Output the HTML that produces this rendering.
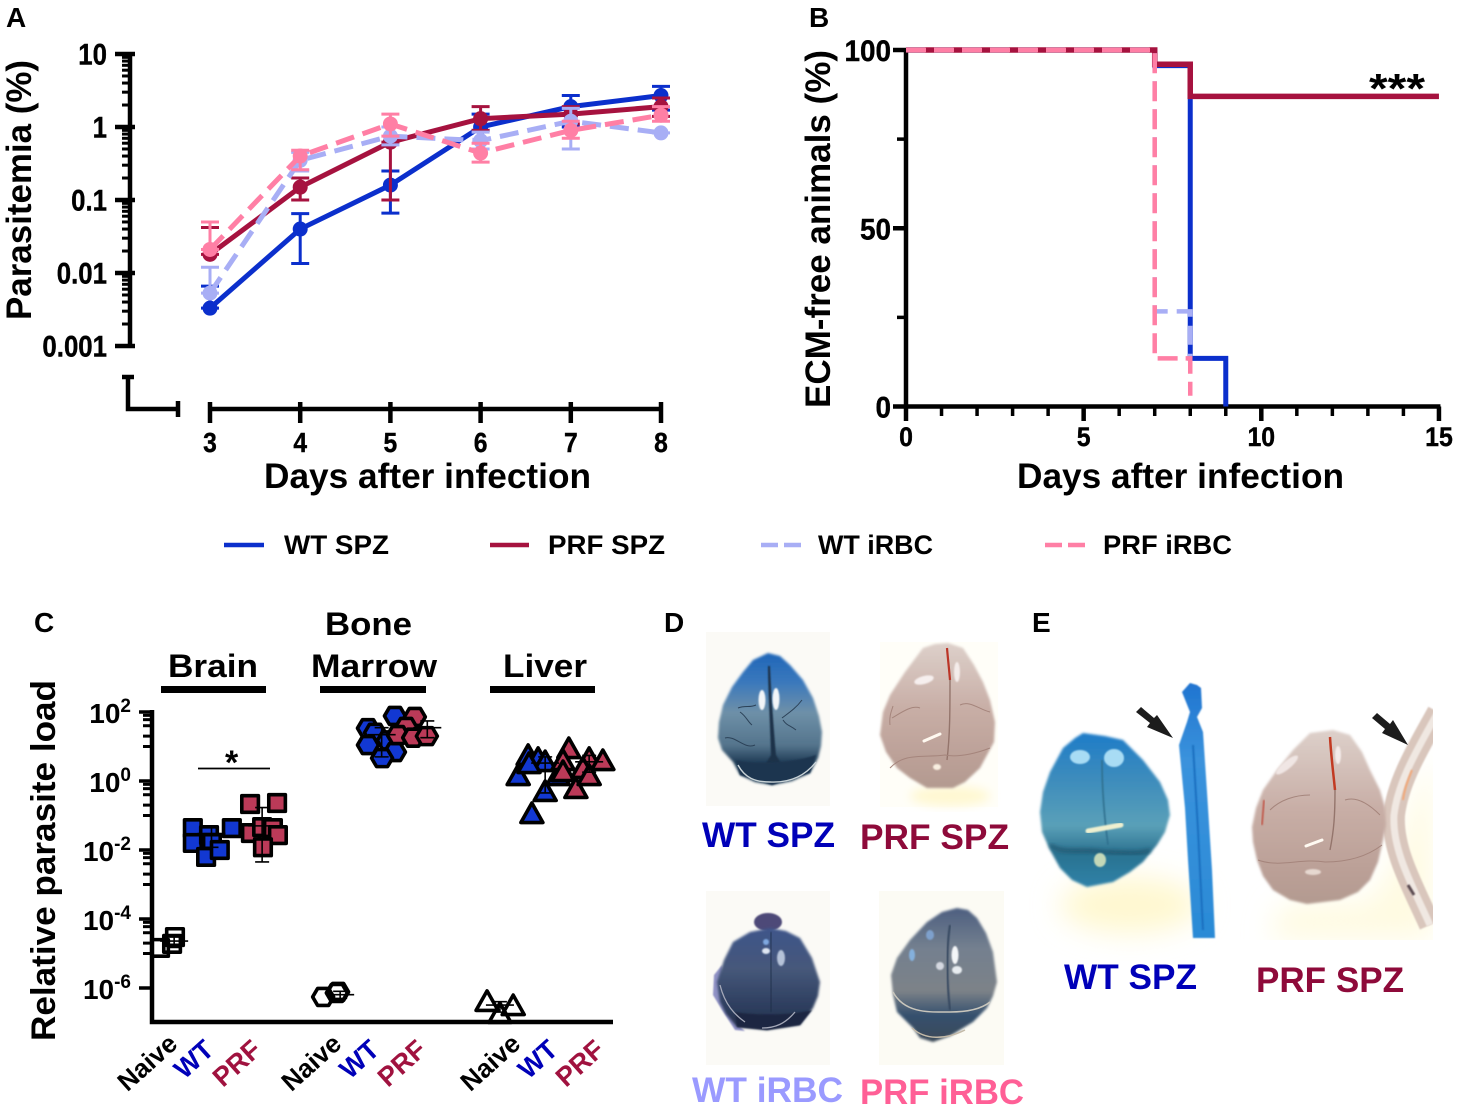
<!DOCTYPE html>
<html lang="en">
<head>
<meta charset="utf-8">
<title>Parasitemia, ECM and parasite load figure</title>
<style>
html,body{margin:0;padding:0;background:#fff;}
svg{display:block;}
text{font-family:"Liberation Sans",sans-serif;font-weight:bold;fill:#000;}
</style>
</head>
<body>
<svg id="fig" xmlns="http://www.w3.org/2000/svg" width="1458" height="1108" viewBox="0 0 1458 1108">
<defs>
<filter id="edge" x="-10%" y="-10%" width="120%" height="120%"><feGaussianBlur stdDeviation="1.2"/></filter>
<filter id="soft" x="-30%" y="-30%" width="160%" height="160%"><feGaussianBlur stdDeviation="0.8"/></filter>
<filter id="softer" x="-30%" y="-30%" width="160%" height="160%"><feGaussianBlur stdDeviation="2"/></filter>
<filter id="shade" x="-30%" y="-30%" width="160%" height="160%"><feGaussianBlur stdDeviation="5"/></filter>
<filter id="glow" x="-50%" y="-50%" width="200%" height="200%"><feGaussianBlur stdDeviation="14"/></filter>
<linearGradient id="g-wtspz" x1="0" y1="0" x2="0" y2="1"><stop offset="0" stop-color="#1f66b8"/><stop offset=".22" stop-color="#3a78bc"/><stop offset=".45" stop-color="#6e90a8"/><stop offset=".7" stop-color="#54748c"/><stop offset=".82" stop-color="#24405a"/><stop offset="1" stop-color="#1e3a54"/></linearGradient>
<linearGradient id="g-prf" x1="0" y1="0" x2="0" y2="1"><stop offset="0" stop-color="#ddd0ca"/><stop offset=".45" stop-color="#c8aea6"/><stop offset=".8" stop-color="#bba097"/><stop offset="1" stop-color="#b39a90"/></linearGradient>
<linearGradient id="g-wtirbc" x1="0" y1="0" x2="0" y2="1"><stop offset="0" stop-color="#3e558a"/><stop offset=".4" stop-color="#46587a"/><stop offset=".75" stop-color="#2e3f60"/><stop offset="1" stop-color="#26304a"/></linearGradient>
<linearGradient id="g-prfirbc" x1="0" y1="0" x2="0" y2="1"><stop offset="0" stop-color="#4d5f80"/><stop offset=".3" stop-color="#74808f"/><stop offset=".62" stop-color="#7c8288"/><stop offset=".8" stop-color="#35506e"/><stop offset="1" stop-color="#3c4a58"/></linearGradient>
<linearGradient id="g-ewt" x1="0" y1="0" x2="0" y2="1"><stop offset="0" stop-color="#1e7cc8"/><stop offset=".3" stop-color="#3d8cbc"/><stop offset=".6" stop-color="#5aa0b8"/><stop offset=".78" stop-color="#2c7290"/><stop offset="1" stop-color="#2d82a8"/></linearGradient>
<linearGradient id="g-tube" x1="0" y1="0" x2="0" y2="1"><stop offset="0" stop-color="#1f74d0"/><stop offset=".3" stop-color="#3a92dc"/><stop offset="1" stop-color="#2a8ad6"/></linearGradient>
<clipPath id="tube-clip"><rect x="1240" y="700" width="193" height="240"/></clipPath>
</defs>

<!-- panel letters -->
<text x="6" y="27" font-size="28">A</text>
<text x="809" y="27" font-size="28">B</text>
<text x="34" y="632" font-size="28">C</text>
<text x="664" y="632" font-size="28">D</text>
<text x="1032" y="632" font-size="28">E</text>

<!-- panel A -->
<g id="panel-a">
<text transform="translate(31,320) rotate(-90)" font-size="35" textLength="260" lengthAdjust="spacingAndGlyphs">Parasitemia (%)</text>
<text x="264" y="488" font-size="35" textLength="327" lengthAdjust="spacingAndGlyphs">Days after infection</text>
</g>

<!-- panel B -->
<g id="panel-b">
<text transform="translate(830,408) rotate(-90)" font-size="35" textLength="358" lengthAdjust="spacingAndGlyphs">ECM-free animals (%)</text>
<text x="1017" y="488" font-size="35" textLength="327" lengthAdjust="spacingAndGlyphs">Days after infection</text>
<text x="1369" y="103" font-size="42" textLength="56" lengthAdjust="spacingAndGlyphs">***</text>
</g>

<!-- legend -->
<g id="legend">
<g>
<line x1="224" y1="545" x2="264" y2="545" stroke="#0b2fcc" stroke-width="4.5"/>
<text x="284" y="554" font-size="27" textLength="105" lengthAdjust="spacingAndGlyphs">WT SPZ</text>
</g>
<g>
<line x1="490" y1="545" x2="529" y2="545" stroke="#a6123f" stroke-width="4.5"/>
<text x="548" y="554" font-size="27" textLength="117" lengthAdjust="spacingAndGlyphs">PRF SPZ</text>
</g>
<g>
<line x1="761" y1="545" x2="801" y2="545" stroke="#a8aef5" stroke-width="4.5" stroke-dasharray="17 6"/>
<text x="818" y="554" font-size="27" textLength="115" lengthAdjust="spacingAndGlyphs">WT iRBC</text>
</g>
<g>
<line x1="1045" y1="545" x2="1086" y2="545" stroke="#ff7fa5" stroke-width="4.5" stroke-dasharray="17 6"/>
<text x="1103" y="554" font-size="27" textLength="129" lengthAdjust="spacingAndGlyphs">PRF iRBC</text>
</g>
</g>

<!-- panel C -->
<g id="panel-c">
<text transform="translate(55,1041) rotate(-90)" font-size="34" textLength="361" lengthAdjust="spacingAndGlyphs">Relative parasite load</text>
<text x="168" y="677" font-size="32" textLength="90" lengthAdjust="spacingAndGlyphs">Brain</text>
<text x="325" y="635" font-size="32" textLength="87" lengthAdjust="spacingAndGlyphs">Bone</text>
<text x="311" y="677" font-size="32" textLength="126" lengthAdjust="spacingAndGlyphs">Marrow</text>
<text x="503" y="677" font-size="32" textLength="84" lengthAdjust="spacingAndGlyphs">Liver</text>
<rect x="161" y="686" width="105" height="7" fill="#000"/>
<rect x="320" y="686" width="106" height="7" fill="#000"/>
<rect x="490" y="686" width="105" height="7" fill="#000"/>
<line x1="198" y1="768.5" x2="270" y2="768.5" stroke="#000" stroke-width="1.8"/>
<text x="225" y="774" font-size="34">*</text>
</g>

<!-- panel D photographs -->
<g id="panel-d">
<g>
<rect x="706" y="632" width="124" height="174" fill="#fbfaf6"/>
<polygon points="768,653 780,656 790,665 803,680 813,698 819,716 822,732 821,746 818,758 810,773 792,781 772,785 755,782 740,775 733,762 722,750 718,738 719,722 723,705 732,687 743,672 753,660" fill="url(#g-wtspz)" filter="url(#edge)"/>
<path d="M768,666 C768,690 770,720 771,755 L762,770 L772,783 L785,770 L776,755 C773,720 771,690 770,666Z" fill="#1c3048" filter="url(#soft)"/>
<path d="M736,760 C750,764 790,764 816,755 L810,773 L772,785 L740,775Z" fill="#1d3650" filter="url(#soft)"/>
<path d="M738,765 C745,778 755,782 770,782 C790,783 805,776 816,762" stroke="#c8d2d6" stroke-width="1.4" fill="none"/>
<path d="M738,708 C745,705 750,708 756,705 M752,725 C748,722 746,716 740,712 M782,718 C790,712 796,708 802,700 M783,720 C787,726 790,725 796,730 M725,738 C735,735 745,750 755,745" stroke="#2c4258" stroke-width="1" fill="none"/>
<ellipse cx="762" cy="700" rx="3.5" ry="10" fill="#f2f5f8" filter="url(#soft)"/>
<ellipse cx="776" cy="699" rx="3.5" ry="11" fill="#f2f5f8" filter="url(#soft)"/>
</g>
<g>
<rect x="880" y="642" width="118" height="165" fill="#fffef8"/>
<ellipse cx="950" cy="796" rx="40" ry="10" fill="#fff8d2" filter="url(#shade)"/>
<polygon points="948,643 963,648 974,665 983,682 990,700 995,722 994,742 980,768 965,782 953,788 927,788 910,778 897,768 886,752 880,735 883,712 890,695 905,672 923,648 935,644" fill="url(#g-prf)" filter="url(#edge)"/>
<path d="M947,648 C948,660 949,668 950,680" stroke="#bb3426" stroke-width="2.2" fill="none"/>
<path d="M950,680 C950,710 950,735 947,760" stroke="#94756c" stroke-width="1.4" fill="none"/>
<path d="M890,768 C905,752 925,758 945,755 C960,758 980,752 990,748 M892,718 C902,712 912,705 920,708 M960,705 C970,700 980,710 990,712 M890,725 C889,715 892,710 893,706" stroke="#a5857c" stroke-width="1" fill="none"/>
<path d="M924,741 L940,734" stroke="#fff9f0" stroke-width="3" stroke-linecap="round"/>
<ellipse cx="937" cy="767" rx="4" ry="3" fill="#f8eee0" filter="url(#soft)"/>
<ellipse cx="924" cy="680" rx="10" ry="4" fill="#f6efee" transform="rotate(-15 924 680)" filter="url(#soft)"/>
<ellipse cx="957" cy="672" rx="3" ry="10" fill="#f4ecea" filter="url(#soft)"/>
</g>
<g>
<rect x="706" y="891" width="124" height="174" fill="#fbfaf6"/>
<polygon points="714,975 722,965 725,1000 738,1025 745,1031 735,1030 722,1010 713,995" fill="#8f91c4" filter="url(#soft)"/>
<ellipse cx="768" cy="922" rx="14" ry="9" fill="#4e4a78" filter="url(#soft)"/>
<polygon points="770,928 786,931 800,938 812,958 820,982 818,996 813,1008 800,1025 767,1030 737,1027 726,1014 720,1002 717,982 724,960 733,942 750,932" fill="url(#g-wtirbc)" filter="url(#edge)"/>
<path d="M771,932 C770,960 772,990 771,1012" stroke="#1e2a44" stroke-width="2" fill="none" filter="url(#soft)"/>
<path d="M735,1012 C750,1015 790,1016 812,1010 L800,1025 L767,1030 L737,1027Z" fill="#1d2842" filter="url(#soft)"/>
<path d="M720,985 C725,1005 735,1015 745,1022 M795,1012 C785,1024 775,1028 762,1028" stroke="#a4a8b8" stroke-width="1.3" fill="none"/>
<ellipse cx="766" cy="951" rx="4" ry="3" fill="#dfe6f2" filter="url(#soft)"/>
<ellipse cx="781" cy="958" rx="4" ry="8" fill="#b5c2d8" filter="url(#soft)"/>
<ellipse cx="766" cy="942" rx="3" ry="3" fill="#7fa8e0" filter="url(#soft)"/>
</g>
<g>
<rect x="879" y="891" width="125" height="174" fill="#fcfbf4"/>
<polygon points="957,908 968,910 977,918 986,933 993,952 997,982 993,996 987,1008 973,1022 950,1036 933,1042 920,1038 913,1028 897,1012 893,995 891,975 897,958 910,940 927,922 942,912" fill="url(#g-prfirbc)" filter="url(#edge)"/>
<path d="M950,925 C946,950 947,985 950,1010" stroke="#36465e" stroke-width="2" fill="none" filter="url(#soft)"/>
<path d="M893,992 C905,1014 930,1012 950,1012 C965,1012 980,1010 990,1002" stroke="#c9c6bc" stroke-width="1.5" fill="none"/>
<path d="M912,1028 C925,1040 945,1040 965,1030" stroke="#c4baa8" stroke-width="1.5" fill="none"/>
<ellipse cx="955" cy="955" rx="3.5" ry="9" fill="#f4f6f8" filter="url(#soft)"/>
<ellipse cx="957" cy="970" rx="5" ry="4" fill="#e8ecf0" filter="url(#soft)"/>
<ellipse cx="940" cy="966" rx="4" ry="4" fill="#d4d8e0" filter="url(#soft)"/>
<ellipse cx="912" cy="955" rx="3" ry="6" fill="#84b0dc" filter="url(#soft)"/>
<ellipse cx="930" cy="935" rx="4" ry="5" fill="#7ea0cc" filter="url(#soft)"/>
</g>
<text x="702" y="847" font-size="35" style="fill:#0000b8" textLength="133" lengthAdjust="spacingAndGlyphs">WT SPZ</text>
<text x="860" y="849" font-size="35" style="fill:#8e0a3a" textLength="149" lengthAdjust="spacingAndGlyphs">PRF SPZ</text>
<text x="692" y="1102" font-size="35" style="fill:#9a9aff" textLength="151" lengthAdjust="spacingAndGlyphs">WT iRBC</text>
<text x="860" y="1104" font-size="35" style="fill:#ff5f96" textLength="164" lengthAdjust="spacingAndGlyphs">PRF iRBC</text>
</g>

<!-- panel E photographs -->
<g id="panel-e">
<g clip-path="url(#tube-clip)">
<polygon points="1420,780 1433,760 1433,940 1270,940 1280,905 1370,900 1395,860" fill="#fffbe2" filter="url(#glow)"/>
<path d="M1438,712 C1420,745 1398,780 1394,815 C1392,850 1412,885 1430,925" stroke="#d9c6bc" stroke-width="22" fill="none" filter="url(#soft)"/>
<path d="M1438,712 C1420,745 1398,780 1394,815 C1392,850 1412,885 1430,925" stroke="#f0e8e2" stroke-width="7" fill="none" filter="url(#soft)"/>
<path d="M1412,770 C1406,785 1404,792 1403,800" stroke="#f2a878" stroke-width="2" fill="none" filter="url(#soft)"/>
<path d="M1408,885 L1414,895" stroke="#5a4a50" stroke-width="3" filter="url(#soft)"/>
</g>
<polygon points="1333,730 1350,735 1362,752 1370,770 1380,790 1385,807 1386,825 1383,840 1378,862 1370,880 1358,892 1340,900 1307,904 1290,900 1273,890 1263,876 1257,860 1253,842 1252,827 1256,808 1263,790 1277,770 1293,750 1310,733" fill="url(#g-prf)" filter="url(#edge)"/>
<path d="M1330,737 C1331,755 1333,770 1335,790" stroke="#c23a22" stroke-width="2.5" fill="none"/>
<path d="M1335,790 C1335,815 1334,830 1330,850" stroke="#94756c" stroke-width="1.4" fill="none"/>
<path d="M1258,860 C1280,868 1300,858 1325,862 C1345,862 1365,858 1382,845 M1270,810 C1280,800 1295,795 1310,795 M1345,800 C1360,795 1375,810 1380,815" stroke="#a5857c" stroke-width="1" fill="none"/>
<path d="M1306,846 L1322,840" stroke="#fffaf2" stroke-width="3" stroke-linecap="round"/>
<ellipse cx="1287" cy="765" rx="14" ry="4" fill="#f0e6e4" transform="rotate(-40 1287 765)" filter="url(#soft)"/>
<ellipse cx="1338" cy="755" rx="3" ry="9" fill="#f4ecea" filter="url(#soft)"/>
<ellipse cx="1313" cy="872" rx="8" ry="3" fill="#e6d8d0" filter="url(#soft)"/>
<path d="M1264,800 L1262,825" stroke="#c04a3a" stroke-width="1.5" filter="url(#soft)"/>

<ellipse cx="1130" cy="905" rx="70" ry="28" fill="#fff8d0" filter="url(#glow)"/>
<polygon points="1083,733 1105,736 1123,740 1143,760 1160,782 1168,800 1170,815 1165,832 1157,845 1143,862 1130,872 1113,882 1087,887 1072,880 1060,868 1050,850 1042,832 1040,812 1043,792 1050,772 1063,748 1075,738" fill="url(#g-ewt)" filter="url(#edge)"/>
<path d="M1102,760 C1102,790 1104,815 1108,845" stroke="#2f6f8e" stroke-width="1.6" fill="none" filter="url(#soft)"/>
<path d="M1050,845 C1062,855 1085,848 1102,852 C1120,852 1140,855 1150,850" stroke="#1f4f68" stroke-width="3" fill="none" filter="url(#softer)"/>
<ellipse cx="1080" cy="757" rx="10" ry="7" fill="#a8dcf4" filter="url(#soft)"/>
<ellipse cx="1114" cy="758" rx="10" ry="9" fill="#a8dcf4" filter="url(#soft)"/>
<path d="M1088,831 L1121,825" stroke="#eef0d0" stroke-width="5" stroke-linecap="round" filter="url(#soft)"/>
<ellipse cx="1100" cy="860" rx="6" ry="7" fill="#c4d8b8" filter="url(#soft)"/>
<polygon points="1190,683 1197,685 1201,688 1202,708 1197,717 1203,732 1207,792 1212,870 1215,938 1193,938 1188,860 1185,808 1179,745 1187,722 1190,712 1182,692" fill="url(#g-tube)" filter="url(#soft)"/>
<path d="M1193,745 L1198,830 L1203,930" stroke="#1a70c0" stroke-width="2" fill="none" filter="url(#soft)"/>
<polygon points="1136,712 1141,707 1154,718 1157,715 1173,738 1147,727 1150,723" fill="#1c1c1c"/>
<polygon points="1372,718 1377,713 1390,724 1393,720 1408,745 1382,733 1385,729" fill="#1c1c1c"/>
<text x="1064" y="989" font-size="35" style="fill:#0000b8" textLength="133" lengthAdjust="spacingAndGlyphs">WT SPZ</text>
<text x="1256" y="992" font-size="35" style="fill:#8e0a3a" textLength="148" lengthAdjust="spacingAndGlyphs">PRF SPZ</text>
</g>
</svg>

<script>
/* ---------- Panel A data ---------- */
const parasitemiaDays = [3, 4, 5, 6, 7, 8];
const wtSpzParasitemia = [0.0033, 0.04, 0.16, 1.0, 1.9, 2.7];
const prfSpzParasitemia = [0.018, 0.15, 0.62, 1.3, 1.5, 1.9];
const wtIrbcParasitemia = [0.0053, 0.35, 0.75, 0.65, 1.2, 0.83];
const prfIrbcParasitemia = [0.021, 0.4, 1.1, 0.44, 0.9, 1.45];
const wtSpzHigh = [0.0066, 0.065, 0.25, 1.5, 2.7, 3.6];
const wtSpzLow = [0.0033, 0.0135, 0.066, 0.9, 1.0, 1.7];
const prfSpzHigh = [0.042, 0.2, 0.62, 1.9, 1.9, 2.5];
const prfSpzLow = [0.018, 0.1, 0.1, 0.9, 1.1, 1.4];
const wtIrbcHigh = [0.012, 0.45, 1.0, 0.85, 1.8, 0.83];
const wtIrbcLow = [0.0053, 0.25, 0.57, 0.5, 0.5, 0.83];
const prfIrbcHigh = [0.05, 0.48, 1.5, 0.6, 1.2, 1.9];
const prfIrbcLow = [0.021, 0.26, 0.75, 0.33, 0.7, 1.2];
const parasitemiaTicks = [10, 1, 0.1, 0.01, 0.001];
const parasitemiaTickLabels = ['10', '1', '0.1', '0.01', '0.001'];

/* ---------- Panel B data ---------- */
const survivalTickLabelsY = [0, 50, 100];
const survivalMinorY = [25, 75];
const survivalTickLabelsX = [0, 5, 10, 15];
const survivalDaysMax = 15;
const wtSpzDays = [0, 7, 7, 8, 8, 9, 9];
const wtSpzSurvival = [100, 100, 95.6, 95.6, 13.5, 13.5, 0];
const prfSpzDays = [0, 7, 7, 8, 8, 15];
const prfSpzSurvival = [100, 100, 96, 96, 87, 87];
const wtIrbcDays = [0, 7, 7, 8, 8];
const wtIrbcSurvival = [100, 100, 26.7, 26.7, 13.5];
const prfIrbcDays = [0, 7, 7, 8, 8];
const prfIrbcSurvival = [100, 100, 13.5, 13.5, 3];

/* ---------- Panel C data ---------- */
const loadCategories = ['Naive', 'WT', 'PRF', 'Naive', 'WT', 'PRF', 'Naive', 'WT', 'PRF'];
const loadColumns = [0, 1, 2, 4, 5, 6, 8, 9, 10];
const loadMarkers = ['square', 'square', 'square', 'hexagon', 'hexagon', 'hexagon', 'triangle', 'triangle', 'triangle'];
const loadBrainNaive = [1.45e-5, 1.9e-5, 3e-5];
const jitterBrainNaive = [-0.24, 0.05, 0.12];
const loadBrainWt = [0.043, 0.016, 0.027, 0.016, 0.0063, 0.01, 0.043];
const jitterBrainWt = [-0.45, -0.45, -0.06, 0.01, -0.13, 0.2, 0.49];
const loadBrainPrf = [0.215, 0.23, 0.031, 0.046, 0.043, 0.027, 0.012];
const jitterBrainPrf = [-0.07, 0.58, -0.05, 0.22, 0.48, 0.6, 0.24];
const loadMarrowNaive = [5.5e-7, 7.7e-7, 7.2e-7];
const jitterMarrowNaive = [-0.31, 0.05, 0.02];
const loadMarrowWt = [34, 77, 25, 11, 15, 6.9, 4.6];
const jitterMarrowWt = [-0.23, 0.42, -0.06, -0.23, 0.25, 0.42, 0.11];
const loadMarrowPrf = [72, 37, 21.5, 18, 20];
const jitterMarrowPrf = [-0.1, -0.31, -0.51, -0.14, 0.19];
const loadLiverNaive = [3.7e-7, 2.8e-7, 1.65e-7];
const jitterLiverNaive = [-0.36, 0.27, -0.05];
const loadLiverWt = [5, 1.3, 4.1, 3.3, 2.9, 0.45, 0.103, 1.3];
const jitterLiverWt = [-0.37, -0.61, -0.13, 0.04, -0.35, 0.04, -0.28, 0.35];
const loadLiverPrf = [7.9, 3.55, 1.7, 0.55, 4.1, 3.55, 2.1, 1.3];
const jitterLiverPrf = [-0.39, -0.53, -0.53, -0.22, 0.1, 0.43, -0.05, 0.1];
const loadMeans = [2.3e-5, 0.03, 0.05, 6.4e-7, 22, 35, 3.2e-7, 3.3, 3.6];
const loadHighs = [3e-5, 0.05, 0.17, 8e-7, 35, 55, 4e-7, 5, 5.5];
const loadLows = [1.5e-5, 0.012, 0.0045, 5e-7, 5, 18, 2e-7, 0.45, 1.8];
const loadStatOffsets = [0.1, 0, 0.22, 0.1, 0.1, 0.2, -0.05, 0.04, 0.1];
const loadTickExponents = [2, 0, -2, -4, -6];

/* ---------- Helpers ---------- */
const SVGNS = 'http://www.w3.org/2000/svg';
function add(parent, tag, attrs, text) {
  const node = document.createElementNS(SVGNS, tag);
  for (const k in attrs) node.setAttribute(k, attrs[k]);
  if (text !== undefined) node.textContent = text;
  parent.appendChild(node);
  return node;
}
function narrow(label, factor) {
  label.setAttribute('textLength', label.getComputedTextLength() * factor);
  label.setAttribute('lengthAdjust', 'spacingAndGlyphs');
}
const panelA = document.getElementById('panel-a');
const panelB = document.getElementById('panel-b');
const panelC = document.getElementById('panel-c');

/* ---------- Panel A ---------- */
const xA = d => 210 + (d - 3) * 90.2;
const yA = v => 346 - (Math.log10(v) + 3) * 73;

const axisAY = add(panelA, 'path', {d: `M130,${yA(10)} V${yA(0.001)}`, stroke: '#000', 'stroke-width': 4.5, fill: 'none'});


for (let e = -3; e < 1; e++) {
  for (let m = 2; m < 10; m++) {
    const minor = add(panelA, 'line', {x1: 122, x2: 130, y1: yA(m * Math.pow(10, e)), y2: yA(m * Math.pow(10, e)), stroke: '#000', 'stroke-width': 3});
    
    
  }
}
parasitemiaTicks.forEach((v, i) => {
  const tick = add(panelA, 'line', {x1: 115, x2: 135, y1: yA(v), y2: yA(v), stroke: '#000', 'stroke-width': 4.5});
  
  
  const label = add(panelA, 'text', {x: 107, y: yA(v) + 10.5, 'text-anchor': 'end', 'font-size': 30, stroke: '#000', 'stroke-width': 0.4}, parasitemiaTickLabels[i]);
  
  
  narrow(label, 0.86);
});
const brokenY = add(panelA, 'path', {d: 'M122,377 H134 M128,377 V409 H178 M178,401 V417', stroke: '#000', 'stroke-width': 4.5, fill: 'none'});


const axisAX = add(panelA, 'line', {x1: xA(3), x2: xA(8), y1: 409, y2: 409, stroke: '#000', 'stroke-width': 4.5});


parasitemiaDays.forEach(d => {
  const tick = add(panelA, 'line', {x1: xA(d), x2: xA(d), y1: 402, y2: 423, stroke: '#000', 'stroke-width': 4.5});
  
  
  const label = add(panelA, 'text', {x: xA(d), y: 452, 'text-anchor': 'middle', 'font-size': 28, stroke: '#000', 'stroke-width': 0.4}, String(d));
  
  
  narrow(label, 0.88);
});

const parasitemiaSeries = [
  ['wt-spz', '#0b2fcc', null, wtSpzParasitemia, wtSpzHigh, wtSpzLow],
  ['prf-spz', '#a6123f', null, prfSpzParasitemia, prfSpzHigh, prfSpzLow],
  ['wt-irbc', '#a8aef5', '19 9', wtIrbcParasitemia, wtIrbcHigh, wtIrbcLow],
  ['prf-irbc', '#ff7fa5', '19 9', prfIrbcParasitemia, prfIrbcHigh, prfIrbcLow]
];
parasitemiaSeries.forEach(s => {
  const name = s[0], color = s[1], dash = s[2], vals = s[3], hi = s[4], lo = s[5];
  parasitemiaDays.forEach((d, i) => {
    const x = xA(d);
    const err = add(panelA, 'path', {d: `M${x - 9},${yA(hi[i])} H${x + 9} M${x},${yA(hi[i])} V${yA(lo[i])} M${x - 9},${yA(lo[i])} H${x + 9}`, stroke: color, 'stroke-width': 3, fill: 'none'});
    
    
  });
  const lineAttrs = {d: 'M' + parasitemiaDays.map((d, i) => xA(d) + ',' + yA(vals[i])).join(' L'), stroke: color, 'stroke-width': 5, fill: 'none'};
  if (dash) lineAttrs['stroke-dasharray'] = dash;
  const line = add(panelA, 'path', lineAttrs);
  
  
  parasitemiaDays.forEach((d, i) => {
    const pt = add(panelA, 'ellipse', {cx: xA(d), cy: yA(vals[i]), rx: 7.5, ry: 7.5, fill: color});
    
    
  });
});

/* ---------- Panel B ---------- */
const xB = d => 906 + d * 35.53;
const yB = v => 406.5 - v * 3.565;

const axisBY = add(panelB, 'line', {x1: xB(0), x2: xB(0), y1: yB(100) - 2, y2: yB(0) + 2, stroke: '#000', 'stroke-width': 4.5});


const axisBX = add(panelB, 'line', {x1: xB(0), x2: xB(survivalDaysMax) + 1.5, y1: yB(0), y2: yB(0), stroke: '#000', 'stroke-width': 4.5});


survivalTickLabelsY.forEach(v => {
  const tick = add(panelB, 'line', {x1: 893, x2: xB(0), y1: yB(v), y2: yB(v), stroke: '#000', 'stroke-width': 4.5});
  
  
  const label = add(panelB, 'text', {x: 891, y: yB(v) + 11, 'text-anchor': 'end', 'font-size': 30, stroke: '#000', 'stroke-width': 0.4}, String(v));
  
  
  narrow(label, 0.93);
});
survivalMinorY.forEach(v => {
  const tick = add(panelB, 'line', {x1: 897, x2: xB(0), y1: yB(v), y2: yB(v), stroke: '#000', 'stroke-width': 3.5});
  
  
});
for (let d = 0; d <= survivalDaysMax; d++) {
  const major = survivalTickLabelsX.indexOf(d) >= 0;
  const tick = add(panelB, 'line', {x1: xB(d), x2: xB(d), y1: yB(0), y2: major ? 421 : 416, stroke: '#000', 'stroke-width': major ? 4.5 : 3.5});
  
  
}
survivalTickLabelsX.forEach(d => {
  const label = add(panelB, 'text', {x: xB(d), y: 446, 'text-anchor': 'middle', 'font-size': 27, stroke: '#000', 'stroke-width': 0.4}, String(d));
  
  
  narrow(label, 0.92);
});
const survivalSeries = [
  ['wt-spz', '#0b2fcc', null, wtSpzDays, wtSpzSurvival, 5],
  ['prf-spz', '#a6123f', null, prfSpzDays, prfSpzSurvival, 5.5],
  ['wt-irbc', '#a8aef5', '19 9', wtIrbcDays, wtIrbcSurvival, 4.5],
  ['prf-irbc', '#ff7fa5', '20 8', prfIrbcDays, prfIrbcSurvival, 4.5]
];
survivalSeries.forEach(s => {
  const attrs = {d: 'M' + s[3].map((d, i) => xB(d) + ',' + yB(s[4][i])).join(' L'), stroke: s[1], 'stroke-width': s[5], fill: 'none'};
  if (s[2]) attrs['stroke-dasharray'] = s[2];
  const step = add(panelB, 'path', attrs);
  
  
});

/* ---------- Panel C ---------- */
const xC = (column, jitter) => 170 + (column + jitter) * 41.5;
const yC = v => 781 - Math.log10(v) * 34.5;

const axisC = add(panelC, 'path', {d: `M152,${yC(100) - 2} V1022 H613`, stroke: '#000', 'stroke-width': 4.5, fill: 'none'});


[-6, -4, -2, 0].forEach(e => {
  [10, 20, 40, 60, 80].forEach(m => {
    const v = m * Math.pow(10, e);
    const minor = add(panelC, 'line', {x1: 143, x2: 152, y1: yC(v), y2: yC(v), stroke: '#000', 'stroke-width': 3});
    
    
  });
});
loadTickExponents.forEach(e => {
  const y = yC(Math.pow(10, e));
  const tick = add(panelC, 'line', {x1: 139, x2: 152, y1: y, y2: y, stroke: '#000', 'stroke-width': 3.5});
  
  
  const label = add(panelC, 'text', {x: 131, y: y + 11, 'text-anchor': 'end', 'font-size': 28}, '10');
  
  
  const sup = add(label, 'tspan', {dy: -11, 'font-size': 19}, String(e));
  
  
});

const loadGroups = [
  [loadBrainNaive, jitterBrainNaive], [loadBrainWt, jitterBrainWt], [loadBrainPrf, jitterBrainPrf],
  [loadMarrowNaive, jitterMarrowNaive], [loadMarrowWt, jitterMarrowWt], [loadMarrowPrf, jitterMarrowPrf],
  [loadLiverNaive, jitterLiverNaive], [loadLiverWt, jitterLiverWt], [loadLiverPrf, jitterLiverPrf]
];
function markerPath(shape, x, y) {
  if (shape === 'square') return `M${x - 8.3},${y - 8.3} H${x + 8.3} V${y + 8.3} H${x - 8.3}Z`;
  if (shape === 'hexagon') return `M${x - 10.5},${y} L${x - 5.5},${y - 8.5} H${x + 5.5} L${x + 10.5},${y} L${x + 5.5},${y + 8.5} H${x - 5.5}Z`;
  return `M${x},${y - 12} L${x + 11},${y + 7.5} H${x - 11}Z`;
}
const categoryColors = ['none', '#1238d2', '#bb3a58'];
const labelColors = ['#000', '#0000b8', '#a0123f'];
const labelNudge = [9, 4, 10, 7, 3.5, 9, 20, 16, 21];
const labelDrop = [0, 6, 6];
const labelSizes = [26, 27, 27];
loadGroups.forEach((group, i) => {
  const fill = categoryColors[i % 3];
  group[0].forEach((v, j) => {
    const mark = add(panelC, 'path', {d: markerPath(loadMarkers[i], xC(loadColumns[i], group[1][j]), yC(v)), fill: fill, stroke: '#000', 'stroke-width': 3.6, 'stroke-linejoin': 'round'});
    
    
  });
});
loadGroups.forEach((group, i) => {
  const x = xC(loadColumns[i], loadStatOffsets[i]);
  const err = add(panelC, 'path', {d: `M${x - 7},${yC(loadHighs[i])} H${x + 7} M${x},${yC(loadHighs[i])} V${yC(loadLows[i])} M${x - 7},${yC(loadLows[i])} H${x + 7} M${x - 14},${yC(loadMeans[i])} H${x + 14}`, stroke: '#000', 'stroke-width': 1.6, fill: 'none'});
  
  
  const ax = xC(loadColumns[i], 0) + labelNudge[i];
  const lbl = add(panelC, 'text', {transform: `translate(${ax},${1046 + labelDrop[i % 3]}) rotate(-42)`, 'text-anchor': 'end', 'font-size': labelSizes[i % 3], style: 'fill:' + labelColors[i % 3]}, loadCategories[i]);
  
  
});
</script>
</body>
</html>
